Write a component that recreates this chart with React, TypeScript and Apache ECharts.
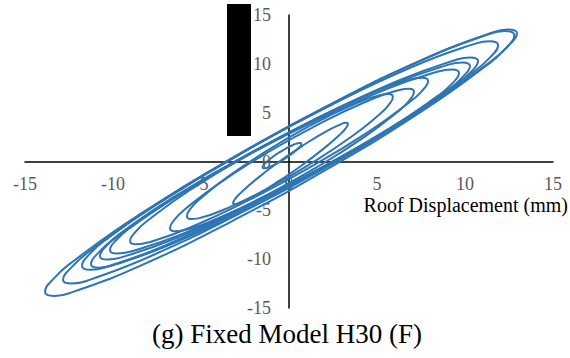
import React, { useEffect, useRef } from "react";
import * as echarts from "echarts";

// Axis ticks
const xTicks = [-15, -10, -5, 0, 5, 10, 15];
const yTicks = [-15, -10, -5, 0, 5, 10, 15];

// Hysteresis loops (roof displacement in mm vs. response)
const loop0: [number, number][] = [
  [-0.62, 0.85], [-0.18, 1.33], [0.26, 1.72], [0.57, 1.89], [0.66, 1.9], [0.7, 1.8], [0.66, 1.61], [0.57, 1.42],
  [0.26, 0.92], [-0.18, 0.35], [-0.62, -0.13], [-1.06, -0.52], [-1.37, -0.69], [-1.46, -0.69], [-1.5, -0.6],
  [-1.46, -0.41], [-1.37, -0.22], [-1.06, 0.28], [-0.62, 0.85],
];
const loop1: [number, number][] = [
  [-0.57, -0.03], [0.74, 1.58], [2.04, 3.02], [2.96, 3.83], [3.22, 3.96], [3.35, 3.84], [3.22, 3.4], [2.96, 2.88],
  [2.04, 1.42], [0.74, -0.38], [-0.57, -1.99], [-1.87, -3.43], [-2.79, -4.24], [-3.05, -4.37], [-3.18, -4.25],
  [-3.05, -3.81], [-2.79, -3.29], [-1.87, -1.83], [-0.57, -0.03],
];
const loop2: [number, number][] = [
  [-1.12, 1.25], [1.22, 3.69], [3.56, 5.76], [5.2, 6.82], [5.67, 6.92], [5.9, 6.6], [5.67, 5.8], [5.2, 4.92],
  [3.56, 2.56], [1.22, -0.23], [-1.12, -2.67], [-3.46, -4.74], [-5.1, -5.8], [-5.57, -5.9], [-5.8, -5.58],
  [-5.57, -4.78], [-5.1, -3.9], [-3.46, -1.54], [-1.12, 1.25],
];
const loop3: [number, number][] = [
  [-1.22, 0.92], [1.56, 3.7], [4.33, 6.09], [6.27, 7.32], [6.82, 7.45], [7.1, 7.11], [6.82, 6.22], [6.27, 5.23],
  [4.33, 2.57], [1.56, -0.61], [-1.22, -3.39], [-3.99, -5.78], [-5.93, -7.01], [-6.48, -7.14], [-6.76, -6.8],
  [-6.48, -5.91], [-5.93, -4.92], [-3.99, -2.26], [-1.22, 0.92],
];
const loop4: [number, number][] = [
  [-2.26, 0.76], [1.13, 4.04], [4.51, 6.88], [6.88, 8.4], [7.56, 8.58], [7.9, 8.24], [7.56, 7.24], [6.88, 6.12],
  [4.51, 3.04], [1.13, -0.66], [-2.26, -3.94], [-5.64, -6.78], [-8.01, -8.3], [-8.69, -8.48], [-9.03, -8.14],
  [-8.69, -7.14], [-8.01, -6.02], [-5.64, -2.94], [-2.26, 0.76],
];
const loop5: [number, number][] = [
  [-2.24, 0.74], [1.73, 4.36], [5.69, 7.52], [8.47, 9.21], [9.26, 9.43], [9.66, 9.06], [9.26, 7.97], [8.47, 6.74],
  [5.69, 3.36], [1.73, -0.74], [-2.24, -4.36], [-6.2, -7.52], [-8.98, -9.21], [-9.77, -9.43], [-10.17, -9.06],
  [-9.77, -7.97], [-8.98, -6.74], [-6.2, -3.36], [-2.24, 0.74],
];
const loop6: [number, number][] = [
  [-2.33, 0.75], [1.87, 4.64], [6.08, 8.04], [9.02, 9.89], [9.86, 10.14], [10.28, 9.77], [9.86, 8.63], [9.02, 7.32],
  [6.08, 3.72], [1.87, -0.65], [-2.33, -4.54], [-6.54, -7.94], [-9.48, -9.79], [-10.32, -10.04], [-10.74, -9.67],
  [-10.32, -8.53], [-9.48, -7.22], [-6.54, -3.62], [-2.33, 0.75],
];
const loop7: [number, number][] = [
  [-2.45, 0.56], [1.94, 4.72], [6.34, 8.37], [9.42, 10.37], [10.3, 10.66], [10.74, 10.29], [10.3, 9.09], [9.42, 7.71],
  [6.34, 3.89], [1.94, -0.77], [-2.45, -4.93], [-6.85, -8.58], [-9.93, -10.58], [-10.81, -10.87], [-11.25, -10.5],
  [-10.81, -9.3], [-9.93, -7.92], [-6.85, -4.1], [-2.45, 0.56],
];
const loop8: [number, number][] = [
  [-2.3, 1.29], [2.42, 5.81], [7.15, 9.8], [10.46, 11.99], [11.41, 12.31], [11.88, 11.92], [11.41, 10.63], [10.46, 9.14],
  [7.15, 5.0], [2.42, -0.07], [-2.3, -4.59], [-7.03, -8.58], [-10.34, -10.77], [-11.29, -11.09], [-11.76, -10.7],
  [-11.29, -9.41], [-10.34, -7.92], [-7.03, -3.78], [-2.3, 1.29],
];
const loop9: [number, number][] = [
  [-2.52, 1.02], [2.63, 6.08], [7.79, 10.57], [11.4, 13.11], [12.43, 13.51], [12.95, 13.15], [12.43, 11.78], [11.4, 10.16],
  [7.79, 5.61], [2.63, 0.0], [-2.52, -5.06], [-7.68, -9.55], [-11.29, -12.09], [-12.32, -12.49], [-12.84, -12.13],
  [-12.32, -10.76], [-11.29, -9.14], [-7.68, -4.59], [-2.52, 1.02],
];
const loop10: [number, number][] = [
  [-3.2, 0.4], [2.14, 5.66], [7.47, 10.33], [11.2, 12.94], [12.27, 13.35], [12.8, 12.95], [12.27, 11.5], [11.2, 9.8],
  [7.47, 5.05], [2.14, -0.81], [-3.2, -6.07], [-8.53, -10.74], [-12.26, -13.35], [-13.33, -13.76], [-13.86, -13.36],
  [-13.33, -11.91], [-12.26, -10.21], [-8.53, -5.46], [-3.2, 0.4],
];

const loops = [loop0, loop1, loop2, loop3, loop4, loop5, loop6, loop7, loop8, loop9, loop10];

const xName = "Roof Displacement (mm)";
const caption = "(g) Fixed Model H30 (F)";

const SERIF = '"Liberation Serif", "Times New Roman", serif';

export default function App() {
  const ref = useRef<HTMLDivElement>(null);
  useEffect(() => {
    if (!ref.current) return;
    const chart = echarts.init(ref.current, undefined, { renderer: "svg" });
    const axisLine = { show: true, onZero: false, lineStyle: { color: "#000", width: 1.5 } };
    chart.setOption({
      animation: false,
      grid: { left: 25, right: 17, top: 15, bottom: 50, containLabel: false, outerBoundsMode: "none" },
      xAxis: {
        type: "value",
        min: xTicks[0],
        max: xTicks[xTicks.length - 1],
        interval: 5,
        position: "bottom",
        offset: -146.5,
        axisLine,
        axisTick: { show: false },
        splitLine: { show: false },
        axisLabel: {
          color: "#595959",
          fontFamily: SERIF,
          fontSize: 18,
          margin: 13,
          lineHeight: 18,
          showMinLabel: true,
          showMaxLabel: true,
        },
      },
      yAxis: {
        type: "value",
        min: yTicks[0],
        max: yTicks[yTicks.length - 1],
        interval: 5,
        position: "left",
        offset: -264,
        axisLine,
        axisTick: { show: false },
        splitLine: { show: false },
        axisLabel: {
          color: "#595959",
          fontFamily: SERIF,
          fontSize: 18,
          margin: 18,
          showMinLabel: true,
          showMaxLabel: true,
        },
      },
      series: loops.map((d) => ({
        type: "line",
        data: d,
        smooth: 0.5,
        showSymbol: false,
        symbol: "none",
        clip: false,
        lineStyle: { color: "#2E75B6", width: 2 },
        z: 3,
      })),
      graphic: [
        {
          type: "rect",
          shape: { x: 227, y: 4, width: 24, height: 132 },
          style: { fill: "#000" },
          z: 10,
        },
        {
          type: "text",
          x: 568,
          y: 205,
          style: {
            text: xName,
            font: `20px ${SERIF}`,
            fill: "#000",
            align: "right",
            verticalAlign: "middle",
          },
          z: 10,
        },
        {
          type: "text",
          x: 287,
          y: 334,
          style: {
            text: caption,
            font: `27px ${SERIF}`,
            fill: "#000",
            align: "center",
            verticalAlign: "middle",
          },
          z: 10,
        },
      ],
    });
    return () => chart.dispose();
  }, []);
  return (
    <div
      ref={ref}
      style={{ position: "fixed", left: 0, top: 0, width: 570, height: 358, background: "#fff" }}
    />
  );
}
